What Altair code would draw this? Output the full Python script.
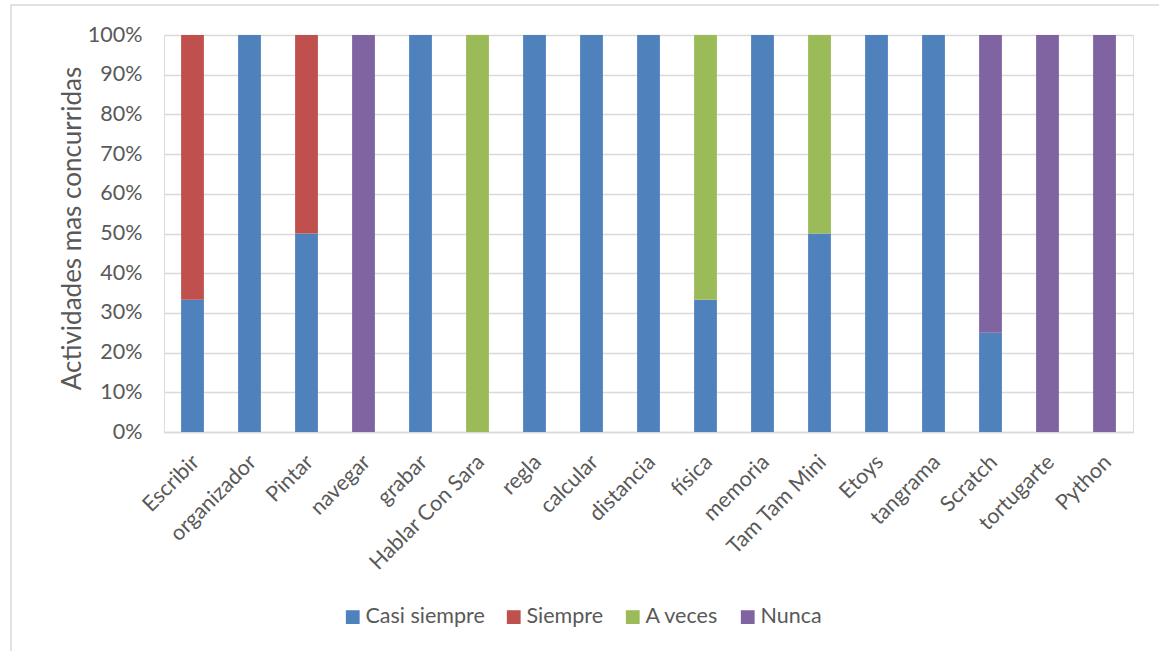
import altair as alt
import pandas as pd

# Activities and how often each one was chosen (response counts per answer)
actividades = ["Escribir", "organizador", "Pintar", "navegar", "grabar",
               "Hablar Con Sara", "regla", "calcular", "distancia", "física",
               "memoria", "Tam Tam Mini", "Etoys", "tangrama", "Scratch",
               "tortugarte", "Python"]
casi_siempre = [1, 1, 1, 0, 1, 0, 1, 1, 1, 1, 1, 1, 1, 1, 1, 0, 0]
siempre      = [2, 0, 1, 0, 0, 0, 0, 0, 0, 0, 0, 0, 0, 0, 0, 0, 0]
a_veces      = [0, 0, 0, 0, 0, 1, 0, 0, 0, 2, 0, 1, 0, 0, 0, 0, 0]
nunca        = [0, 0, 0, 1, 0, 0, 0, 0, 0, 0, 0, 0, 0, 0, 3, 1, 1]

respuestas = ["Casi siempre", "Siempre", "A veces", "Nunca"]
colores = ["#4F81BD", "#C0504D", "#9BBB59", "#8064A2"]

rows = []
for serie, orden, valores in zip(respuestas, range(4),
                                 [casi_siempre, siempre, a_veces, nunca]):
    for act, v in zip(actividades, valores):
        rows.append({"actividad": act, "respuesta": serie, "orden": orden, "n": v})
df = pd.DataFrame(rows)

FONT = "Lato"
TEXT = "#595959"
W, H = 969, 397

bars = alt.Chart(df).mark_bar().encode(
    x=alt.X("actividad:N", sort=actividades,
            scale=alt.Scale(paddingInner=0.6, paddingOuter=0.3),
            axis=alt.Axis(title=None, labelAngle=-45, labelAlign="right",
                          labelBaseline="top", labelPadding=19, labelOffset=-4,
                          ticks=False, domainColor="#D9D9D9", domainWidth=1.5,
                          labelFontSize=21.5, labelColor=TEXT, labelFont=FONT)),
    y=alt.Y("n:Q", stack="normalize",
            scale=alt.Scale(domain=[0, 1]),
            axis=alt.Axis(title="Actividades mas concurridas", format=".0%",
                          values=[i / 10 for i in range(11)],
                          ticks=False, domain=False, labelPadding=22,
                          labelFontSize=21.5, labelColor=TEXT, labelFont=FONT,
                          titleFontSize=26, titleColor=TEXT, titleFont=FONT,
                          titleFontWeight="normal", titleX=-92, titleY=193,
                          titleAngle=-90, titleAlign="center",
                          titleBaseline="middle",
                          gridColor="#D9D9D9", gridWidth=1.5)),
    color=alt.Color("respuesta:N", sort=respuestas,
                    scale=alt.Scale(domain=respuestas, range=colores),
                    legend=alt.Legend(title=None, orient="none",
                                      direction="horizontal",
                                      legendX=178, legendY=571,
                                      symbolType="square", symbolSize=190,
                                      symbolStrokeWidth=0,
                                      labelFontSize=21.5, labelColor=TEXT,
                                      labelFont=FONT, columnPadding=18,
                                      labelOffset=2)),
    order=alt.Order("orden:Q"),
)

# Light frame around the whole figure
frame = alt.Chart(pd.DataFrame({"k": [0]})).mark_rect(
    fill=None, stroke="#D9D9D9", strokeWidth=1.5, clip=False
).encode(
    x=alt.value(-153), x2=alt.value(1005),
    y=alt.value(-30), y2=alt.value(630),
)

chart = alt.layer(bars, frame).properties(
    width=W, height=H,
    padding={"left": 164, "top": 35, "right": 26, "bottom": 219},
    autosize=alt.AutoSizeParams(type="none"),
).configure_view(stroke=None).configure(background="white")

chart.save("out.html", embed_options={"renderer": "svg", "actions": False})
